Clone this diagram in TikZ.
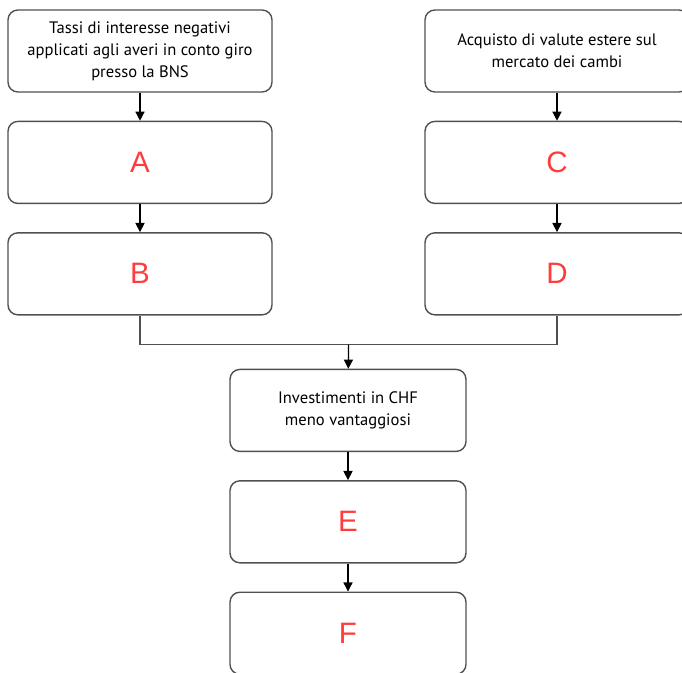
\documentclass[tikz,border=0pt]{standalone}
\usepackage{fontspec}
\setmainfont{PT Sans}
\newfontfamily\letterfont{Liberation Sans}
\usepackage{xcolor}
\usetikzlibrary{positioning, arrows.meta, calc}
\definecolor{boxgray}{RGB}{80,80,80}
\definecolor{letterred}{RGB}{255,60,60}

\begin{document}
\begin{tikzpicture}[
  node distance=0.7cm,
  stepbox/.style={draw=boxgray, line width=1pt, rounded corners=7pt,
                  minimum width=6.6cm, minimum height=2.05cm,
                  font=\fontsize{11.8}{15.5}\selectfont, align=center},
  midbox/.style={stepbox, minimum width=5.9cm},
  letter/.style={text=letterred, font=\letterfont\fontsize{21}{24}\selectfont},
  arrow/.style={-{Triangle[length=6.5pt,width=6.5pt]}, line width=0.9pt, black},
  link/.style={line width=1pt, boxgray},
]
\useasboundingbox (0,0) rectangle (17.05,-16.825);

\node[stepbox] (tassi) at (3.5,-1.275)
  {Tassi di interesse negativi\\applicati agli averi in conto giro\\presso la BNS};
\node[stepbox, letter, below=of tassi] (a) {A};
\node[stepbox, letter, below=of a]     (b) {B};

\node[stepbox] (acquisto) at (13.925,-1.275)
  {Acquisto di valute estere sul\\mercato dei cambi};
\node[stepbox, letter, below=of acquisto] (c) {C};
\node[stepbox, letter, below=of c]        (d) {D};

\node[midbox] (invest) at (8.7,-10.26) {Investimenti in CHF\\meno vantaggiosi};
\node[midbox, letter, below=of invest] (e) {E};
\node[midbox, letter, below=of e]      (f) {F};

\coordinate (join) at ($(b.south)!0.5!(d.south)+(0,-0.725)$);

\draw[arrow] (tassi) -- (a);
\draw[arrow] (a) -- (b);
\draw[arrow] (acquisto) -- (c);
\draw[arrow] (c) -- (d);
\draw[link] (b.south) |- (join) -| (d.south);
\draw[arrow] (join) -- (invest);
\draw[arrow] (invest) -- (e);
\draw[arrow] (e) -- (f);

\end{tikzpicture}
\end{document}
